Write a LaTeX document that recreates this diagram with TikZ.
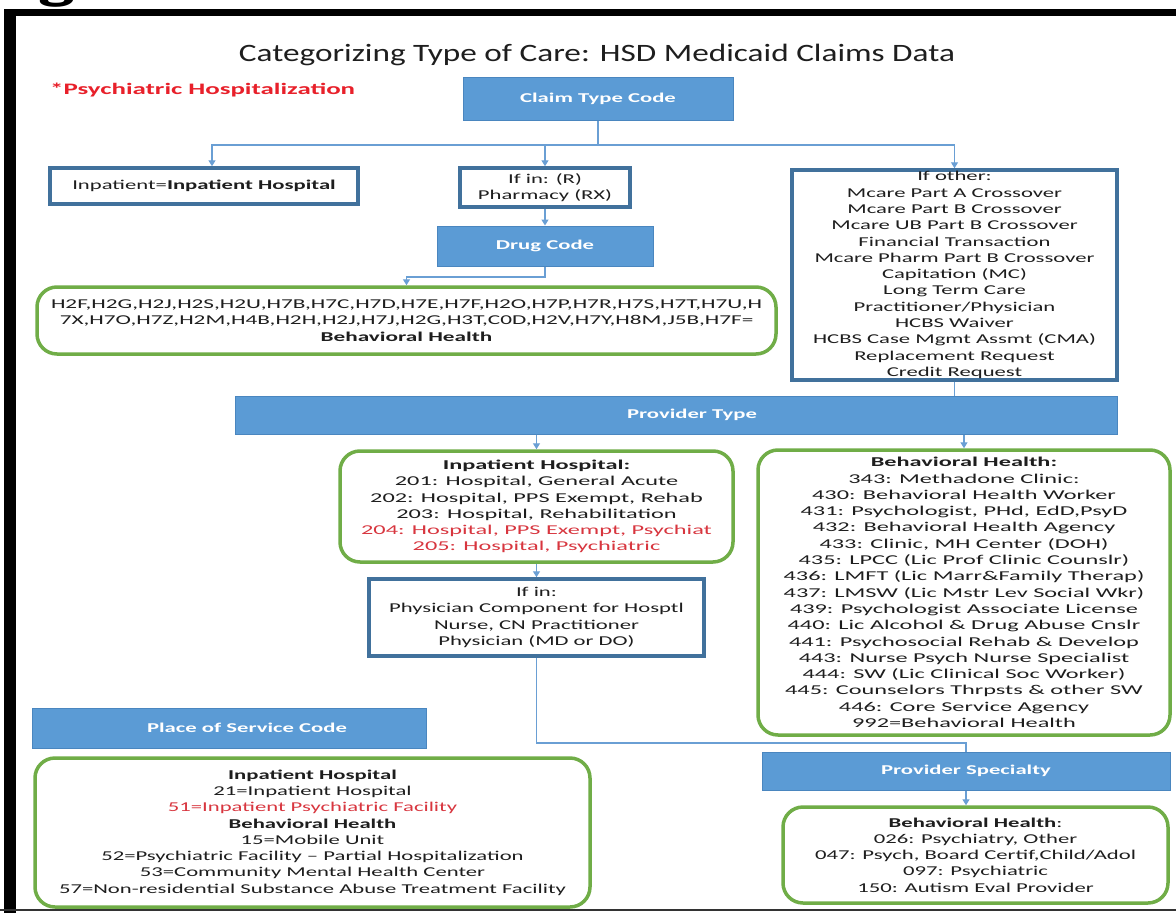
\documentclass[tikz,border=0pt]{standalone}
\usepackage{fontspec}
\usetikzlibrary{arrows.meta}
\setmainfont{Carlito}[FakeStretch=1.68]
\newfontfamily\titlefont{Carlito}[FakeStretch=1.33]
\newfontfamily\widefont{Carlito}[FakeStretch=1.8]
\newfontfamily\hfont{Carlito}[FakeStretch=1.72]
\newcommand\bodyfs{\fontsize{13.5}{16.3}\selectfont}
\definecolor{barblue}{HTML}{5B9BD5}
\definecolor{barline}{HTML}{4A86BF}
\definecolor{boxblue}{HTML}{41719C}
\definecolor{boxgreen}{HTML}{70AD47}
\definecolor{connblue}{HTML}{6A9FD4}
\definecolor{notered}{HTML}{E8202A}
\definecolor{boxred}{HTML}{D8363F}
\definecolor{txt}{HTML}{1E1E1E}
\tikzset{
  bluebar/.style={draw=barline, fill=barblue, line width=1pt, text=white, font=\bodyfs\bfseries, inner sep=0pt},
  bluebox/.style={draw=boxblue, line width=3.5pt, fill=white, align=center, text=txt, font=\bodyfs, inner sep=0pt},
  greenbox/.style={draw=boxgreen, line width=3.5pt, rounded corners=20pt, fill=white, align=center, text=txt, font=\bodyfs, inner sep=0pt},
  conn/.style={draw=connblue, line width=1.3pt},
  arr/.style={conn, -{Triangle[width=7pt,length=6pt]}}
}
\begin{document}
\begin{tikzpicture}[x=1pt,y=-1pt]
\useasboundingbox (0,0) rectangle (1176,913);
\fill[white] (0,0) rectangle (1176,913);
% fragment of a letter above the frame
\begin{scope}
\clip (0,0) rectangle (1176,9);
\node[anchor=base, font=\fontsize{46}{46}\selectfont\bfseries, inner sep=0pt] (gfrag) at (57,-1) {g};
\end{scope}
% frame
\fill[black] (4,9) rectangle (1176,16);
\fill[black] (4,9) rectangle (16,913);
\draw[line width=2pt, black!80] (0,910) -- (1176,910);

% title and note
\node[font=\titlefont\fontsize{25}{29}\selectfont, text=txt] (title) at (597,55) {Categorizing Type of Care: HSD Medicaid Claims Data};
\node[anchor=west, font=\fontsize{16}{19}\selectfont\bfseries, text=notered, inner sep=0pt] (note) at (50,90) {*Psychiatric Hospitalization};

% boxes
\node[bluebar, minimum width=270pt, minimum height=43pt] (claim) at (598,98.5) {Claim Type Code};
\node[bluebox, minimum width=308pt, minimum height=36pt] (inpat) at (204,186) {Inpatient=\textbf{Inpatient Hospital}};
\node[bluebox, minimum width=170pt, minimum height=39pt] (ifr) at (545,187.5) {If in: (R)\\Pharmacy (RX)};
\node[bluebar, minimum width=216pt, minimum height=40pt] (drug) at (545,246) {Drug Code};
\node[greenbox, minimum width=739pt, minimum height=67pt, font=\bodyfs\hfont] (hbox) at (406.5,320.5) {H2F,H2G,H2J,H2S,H2U,H7B,H7C,H7D,H7E,H7F,H2O,H7P,H7R,H7S,H7T,H7U,H\\7X,H7O,H7Z,H2M,H4B,H2H,H2J,H7J,H2G,H3T,C0D,H2V,H7Y,H8M,J5B,H7F=\\\textbf{Behavioral Health}};
\node[bluebox, minimum width=325pt, minimum height=210pt] (other) at (954.5,275) {If other:\\Mcare Part A Crossover\\Mcare Part B Crossover\\Mcare UB Part B Crossover\\Financial Transaction\\Mcare Pharm Part B Crossover\\Capitation (MC)\\Long Term Care\\Practitioner/Physician\\HCBS Waiver\\HCBS Case Mgmt Assmt (CMA)\\Replacement Request\\Credit Request};
\node[bluebar, minimum width=882pt, minimum height=38pt] (prov) at (676,415) {\hspace*{32pt}Provider Type};
\node[greenbox, minimum width=393pt, minimum height=111pt, font=\bodyfs\widefont] (ih) at (536.5,506.5) {\textbf{Inpatient Hospital:}\\201: Hospital, General Acute\\202: Hospital, PPS Exempt, Rehab\\203: Hospital, Rehabilitation\\\textcolor{boxred}{204: Hospital, PPS Exempt, Psychiat}\\\textcolor{boxred}{205: Hospital, Psychiatric}};
\node[bluebox, minimum width=335pt, minimum height=77pt] (ifin) at (536.5,617.5) {If in:\\Physician Component for Hosptl\\Nurse, CN Practitioner\\Physician (MD or DO)};
\node[greenbox, minimum width=412pt, minimum height=285pt, font=\bodyfs\widefont] (bh) at (964,592.5) {\textbf{Behavioral Health:}\\343: Methadone Clinic:\\430: Behavioral Health Worker\\431: Psychologist, PHd, EdD,PsyD\\432: Behavioral Health Agency\\433: Clinic, MH Center (DOH)\\435: LPCC (Lic Prof Clinic Counslr)\\436: LMFT (Lic Marr\&Family Therap)\\437: LMSW (Lic Mstr Lev Social Wkr)\\439: Psychologist Associate License\\440: Lic Alcohol \& Drug Abuse Cnslr\\441: Psychosocial Rehab \& Develop\\443: Nurse Psych Nurse Specialist\\444: SW (Lic Clinical Soc Worker)\\445: Counselors Thrpsts \& other SW\\446: Core Service Agency\\992=Behavioral Health};
\node[bluebar, minimum width=394pt, minimum height=40pt] (posbar) at (229,728) {\hspace*{36pt}Place of Service Code};
\node[greenbox, minimum width=555pt, minimum height=149pt] (posbox) at (312.5,832.5) {\textbf{Inpatient Hospital}\\21=Inpatient Hospital\\\textcolor{boxred}{51=Inpatient Psychiatric Facility}\\\textbf{Behavioral Health}\\15=Mobile Unit\\52=Psychiatric Facility – Partial Hospitalization\\53=Community Mental Health Center\\57=Non-residential Substance Abuse Treatment Facility};
\node[bluebar, minimum width=408pt, minimum height=38pt] (psbar) at (966,771) {Provider Specialty};
\node[greenbox, minimum width=385pt, minimum height=96pt] (psbox) at (975.5,855) {\textbf{Behavioral Health}:\\026: Psychiatry, Other\\047: Psych, Board Certif,Child/Adol\\097: Psychiatric\\150: Autism Eval Provider};

% connectors
\coordinate (split) at (598,145);
\draw[conn] (claim.south) -- (split);
\draw[arr] (split) -| ([xshift=8pt]inpat.north);
\draw[arr] (split) -| (ifr.north);
\draw[arr] (split) -| (other.north);
\draw[arr] (ifr.south) -- (drug.north);
\coordinate (dbend) at (545,277);
\draw[arr] (drug.south) -- (dbend) -| (hbox.north);
\draw[conn] (other.south) -- (other.south |- prov.north);
\draw[arr] (prov.south -| ih.north) -- (ih.north);
\draw[arr] (prov.south -| bh.north) -- (bh.north);
\draw[arr] (ih.south) -- (ifin.north);
\coordinate (ibend) at (536.5,743);
\draw[conn] (ifin.south) -- (ibend) -| (psbar.north);
\draw[arr] (psbar.south) -- (psbar.south |- psbox.north);
\end{tikzpicture}
\end{document}
